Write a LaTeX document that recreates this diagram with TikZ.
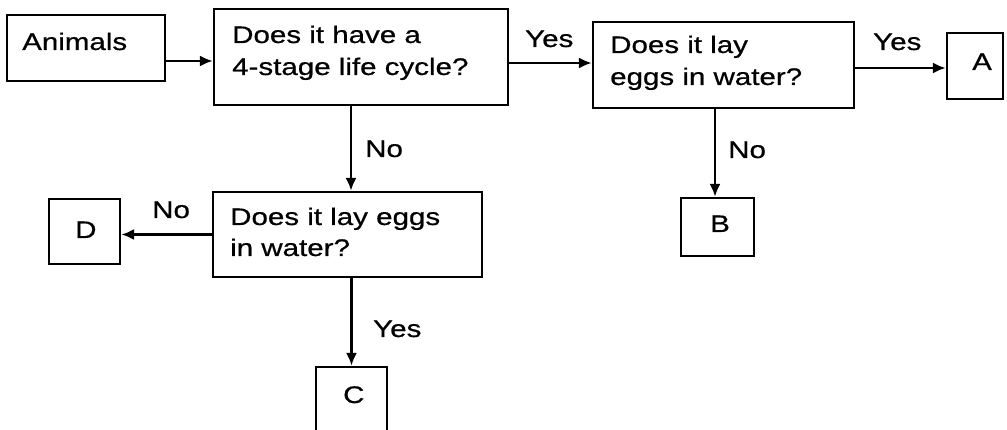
\documentclass[tikz,border=0pt]{standalone}
\usepackage{graphicx}
\usepackage{fontspec}
\setmainfont{Liberation Sans}[FakeBold=0.6]
\usetikzlibrary{arrows.meta,calc}
\newcommand{\sx}[1]{\scalebox{1.23}[1]{#1}}
\tikzset{
  box/.style={draw, line width=2.4pt, inner sep=0pt, rectangle},
  txt/.style={anchor=base west, inner sep=0pt, font=\fontsize{24}{30}\selectfont},
  arr/.style={line width=2.2pt, -{Latex[length=13pt,width=11pt]}}
}
\begin{document}
\begin{tikzpicture}[x=1pt,y=-1pt]
\useasboundingbox (0,0) rectangle (1007,430);
% boxes
\node[box, minimum width=158, minimum height=66] (anim) at (86,48) {};
\node[box, minimum width=294, minimum height=96] (q1) at (361,57) {};
\node[box, minimum width=261, minimum height=86] (q2) at (723.5,65) {};
\node[box, minimum width=56, minimum height=66] (A) at (975,66) {};
\node[box, minimum width=269, minimum height=85] (q3) at (347.5,234.5) {};
\node[box, minimum width=73, minimum height=58] (B) at (717.5,227) {};
\node[box, minimum width=71, minimum height=65] (D) at (84.5,231.5) {};
\node[box, minimum width=71, minimum height=73] (C) at (351.5,403.5) {};
% texts
\node[txt] (tanim) at (22,50) {\sx{Animals}};
\node[txt] (tq1a) at (232,43) {\sx{Does it have a}};
\node[txt] (tq1b) at (232,75) {\sx{4-stage life cycle?}};
\node[txt] (tq2a) at (610,53) {\sx{Does it lay}};
\node[txt] (tq2b) at (610,85) {\sx{eggs in water?}};
\node[txt] (tq3a) at (230,225) {\sx{Does it lay eggs}};
\node[txt] (tq3b) at (230,256) {\sx{in water?}};
\node[txt] (tA) at (972,70) {\sx{A}};
\node[txt] (tB) at (710,232) {\sx{B}};
\node[txt] (tC) at (343,403) {\sx{C}};
\node[txt] (tD) at (75,238) {\sx{D}};
% labels
\node[txt] (yes1) at (525,47) {\sx{Yes}};
\node[txt] (yes2) at (873,50) {\sx{Yes}};
\node[txt] (no1) at (365,157) {\sx{No}};
\node[txt] (no2) at (728,158) {\sx{No}};
\node[txt] (no3) at (152,218) {\sx{No}};
\node[txt] (yes3) at (373,337) {\sx{Yes}};
% connectors
\draw[arr] ([yshift=-13pt]anim.east) -- ([yshift=-13pt]anim.east -| q1.west);
\draw[arr] ([yshift=-6pt]q1.east) -- ([yshift=-6pt]q1.east -| q2.west);
\draw[arr] ([yshift=-3pt]q2.east) -- ([yshift=-3pt]q2.east -| A.west);
\draw[arr] ([xshift=-10pt]q1.south) -- ([xshift=-10pt]q1.south |- q3.north);
\draw[arr] ([xshift=-8.5pt]q2.south) -- ([xshift=-8.5pt]q2.south |- B.north);
\draw[arr] (q3.west) -- (q3.west -| D.east);
\draw[arr] (q3.south -| C.north) -- (C.north);
\end{tikzpicture}
\end{document}
